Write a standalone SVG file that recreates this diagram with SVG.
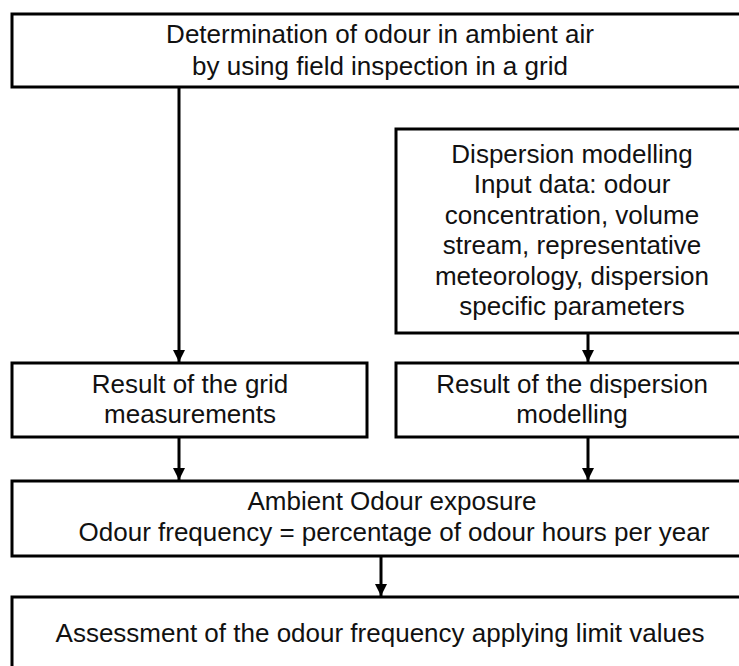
<svg xmlns="http://www.w3.org/2000/svg" width="739" height="666" viewBox="0 0 739 666">
<defs>
<marker id="arr" markerUnits="userSpaceOnUse" markerWidth="12" markerHeight="12" refX="12" refY="6" orient="auto">
<path d="M0,0 L12,6 L0,12 z" fill="#000"/>
</marker>
<style>
.box{fill:#fff;stroke:#000;stroke-width:3}
.t{font-family:"Liberation Sans",Arial,sans-serif;font-size:26px;fill:#111;text-anchor:middle}
.c{stroke:#000;stroke-width:3;fill:none;marker-end:url(#arr)}
</style>
</defs>
<rect width="739" height="666" fill="#fff"/>
<g id="connectors">
<line class="c" x1="179" y1="88" x2="179" y2="362"/>
<line class="c" x1="588" y1="334" x2="588" y2="362"/>
<line class="c" x1="179" y1="438" x2="179" y2="480"/>
<line class="c" x1="588" y1="438" x2="588" y2="480"/>
<line class="c" x1="381" y1="557" x2="381" y2="596"/>
</g>
<g id="n_field">
<rect class="box" x="12" y="14" width="760" height="73"/>
<text class="t" x="380" y="43">Determination of odour in ambient air</text>
<text class="t" x="380" y="75">by using field inspection in a grid</text>
</g>
<g id="n_dispersion">
<rect class="box" x="396" y="129" width="380" height="204"/>
<text class="t" x="572" y="162.5">Dispersion modelling</text>
<text class="t" x="572" y="193">Input data: odour</text>
<text class="t" x="572" y="223.5">concentration, volume</text>
<text class="t" x="572" y="254">stream, representative</text>
<text class="t" x="572" y="284.5">meteorology, dispersion</text>
<text class="t" x="572" y="315">specific parameters</text>
</g>
<g id="n_grid_result">
<rect class="box" x="12" y="363" width="355" height="74"/>
<text class="t" x="190" y="393">Result of the grid</text>
<text class="t" x="190" y="423">measurements</text>
</g>
<g id="n_disp_result">
<rect class="box" x="396" y="363" width="380" height="74"/>
<text class="t" x="572" y="393">Result of the dispersion</text>
<text class="t" x="572" y="423">modelling</text>
</g>
<g id="n_ambient">
<rect class="box" x="12" y="481" width="780" height="75"/>
<text class="t" x="392" y="510">Ambient Odour exposure</text>
<text class="t" x="394" y="541">Odour frequency = percentage of odour hours per year</text>
</g>
<g id="n_assessment">
<rect class="box" x="12" y="597" width="780" height="100"/>
<text class="t" x="380" y="642">Assessment of the odour frequency applying limit values</text>
</g>
</svg>
